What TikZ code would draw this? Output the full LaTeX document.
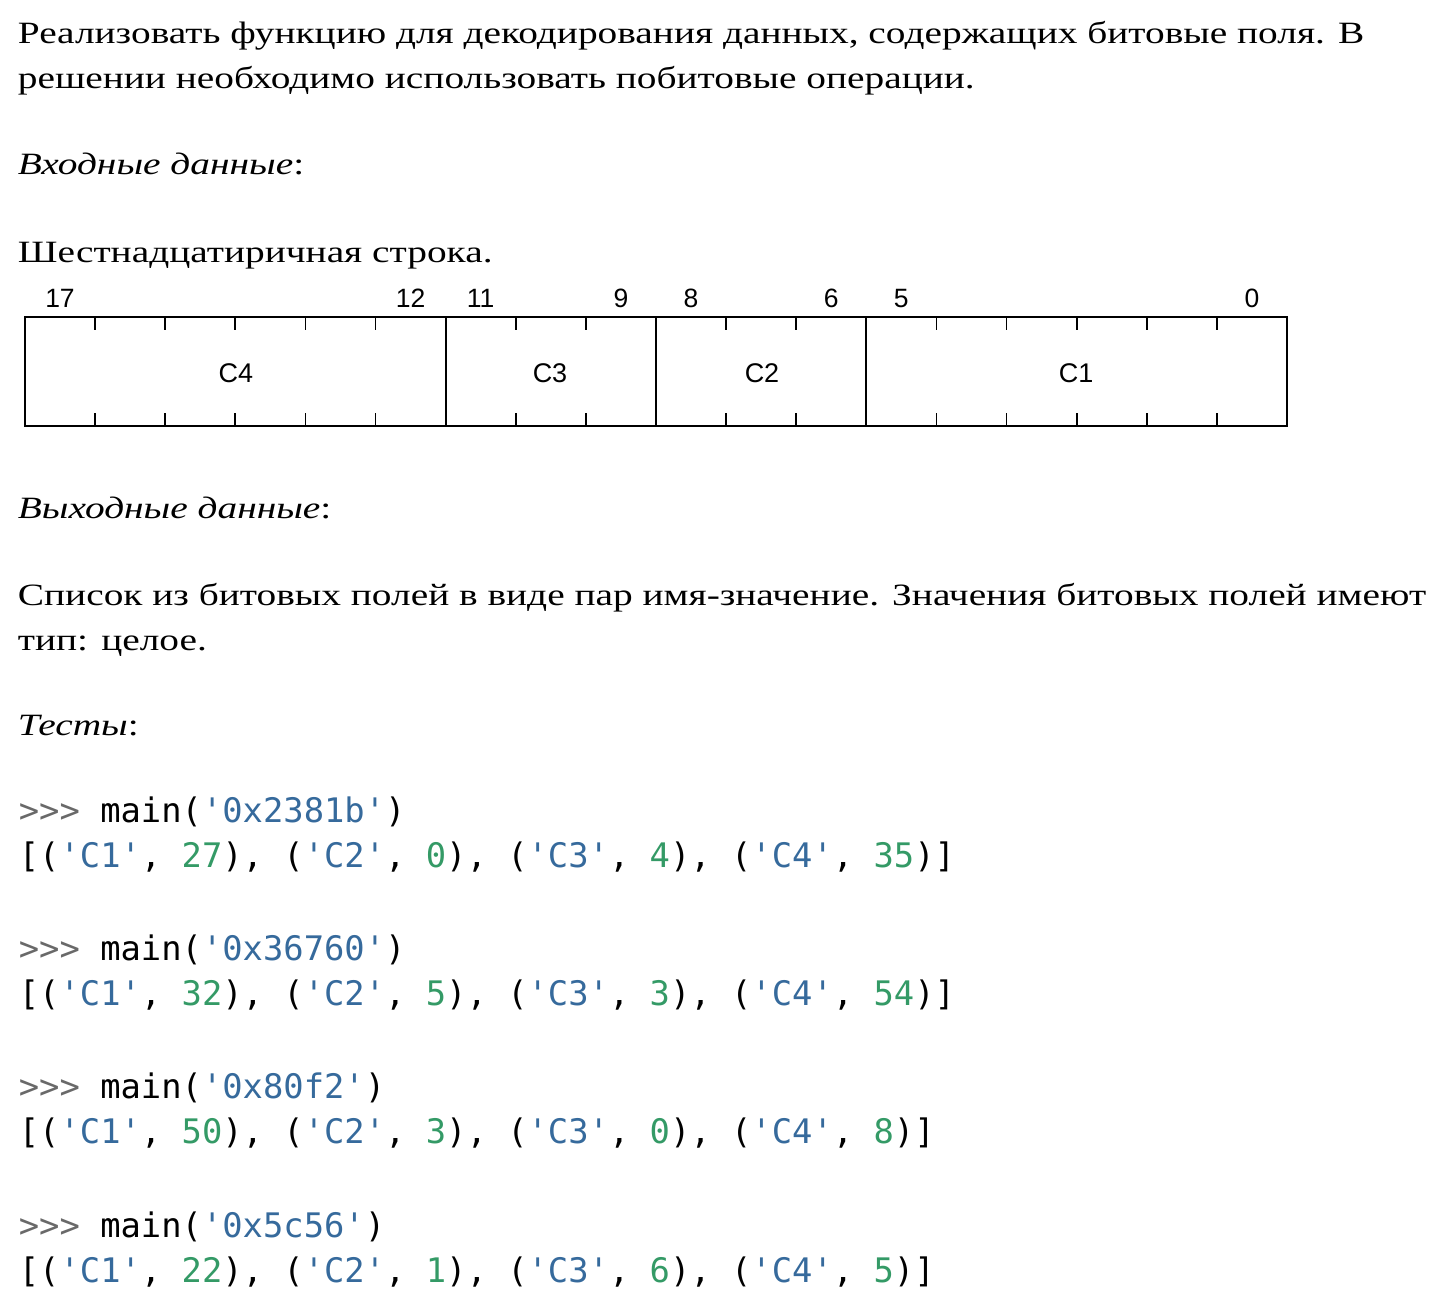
\documentclass[tikz,border=0pt]{standalone}
\usepackage{fontspec}
\setmainfont[FakeStretch=1.27]{Liberation Serif}
\setsansfont{Liberation Sans}
\setmonofont{DejaVu Sans Mono}
\definecolor{strblue}{RGB}{54,106,156}
\definecolor{numgreen}{RGB}{52,154,102}
\definecolor{promptgray}{RGB}{105,105,105}
\newcommand{\cstr}[1]{\textcolor{strblue}{#1}}
\newcommand{\cnum}[1]{\textcolor{numgreen}{#1}}
\newcommand{\prompt}{\textcolor{promptgray}{>>>}}
\tikzset{
  body/.style={anchor=base west, inner sep=0pt, font=\fontsize{31}{45}\selectfont},
  code/.style={anchor=base west, inner sep=0pt, font=\fontsize{33.8}{45}\selectfont\ttfamily},
  bitnum/.style={anchor=base, inner sep=0pt, font=\fontsize{26.5}{30}\selectfont\sffamily},
  field/.style={inner sep=0pt, font=\fontsize{27}{30}\selectfont\sffamily}
}
\begin{document}
\begin{tikzpicture}[x=1pt, y=-1pt, line width=1.8pt]
  \useasboundingbox (0,0) rectangle (1442,1308);
  % Text
  \node[body] (Intro1) at (17,44) {Реализовать функцию для декодирования данных, содержащих битовые поля. В};
  \node[body] (Intro2) at (17,89) {решении необходимо использовать побитовые операции.};
  \node[body] (InHead) at (17,175) {\textit{Входные данные}:};
  \node[body] (InText) at (17,262) {Шестнадцатиричная строка.};
  \node[body] (OutHead) at (17,518) {\textit{Выходные данные}:};
  \node[body] (OutText1) at (17,605) {Список из битовых полей в виде пар имя-значение. Значения битовых полей имеют};
  \node[body] (OutText2) at (17,650) {тип: целое.};
  \node[body] (TestHead) at (17,735) {\textit{Тесты}:};

  % Bit fields
  \draw (25,317) rectangle (1287,426);
  \foreach \b in {1,...,17} {
    \draw ({25+\b*70.11},317) -- ++(0,13);
    \draw ({25+\b*70.11},426) -- ++(0,-13);
  }
  \foreach \b in {6,9,12} \draw ({25+\b*70.11},317) -- ({25+\b*70.11},426);
  \foreach \n/\b in {17/0,12/5,11/6,9/8,8/9,6/11,5/12,0/17}
    \node[bitnum] (B\n) at ({60+\b*70.11},307) {\n};
  \node[field] (C4) at (236,373) {C4};
  \node[field] (C3) at (550,373) {C3};
  \node[field] (C2) at (762,373) {C2};
  \node[field] (C1) at (1076,373) {C1};

  % Tests
  \node[code] (Call1) at (18,822) {\prompt{} main(\cstr{'0x2381b'})};
  \node[code] (Res1) at (18,867) {[(\cstr{'C1'}, \cnum{27}), (\cstr{'C2'}, \cnum{0}), (\cstr{'C3'}, \cnum{4}), (\cstr{'C4'}, \cnum{35})]};
  \node[code] (Call2) at (18,960) {\prompt{} main(\cstr{'0x36760'})};
  \node[code] (Res2) at (18,1005) {[(\cstr{'C1'}, \cnum{32}), (\cstr{'C2'}, \cnum{5}), (\cstr{'C3'}, \cnum{3}), (\cstr{'C4'}, \cnum{54})]};
  \node[code] (Call3) at (18,1098) {\prompt{} main(\cstr{'0x80f2'})};
  \node[code] (Res3) at (18,1143) {[(\cstr{'C1'}, \cnum{50}), (\cstr{'C2'}, \cnum{3}), (\cstr{'C3'}, \cnum{0}), (\cstr{'C4'}, \cnum{8})]};
  \node[code] (Call4) at (18,1237) {\prompt{} main(\cstr{'0x5c56'})};
  \node[code] (Res4) at (18,1282) {[(\cstr{'C1'}, \cnum{22}), (\cstr{'C2'}, \cnum{1}), (\cstr{'C3'}, \cnum{6}), (\cstr{'C4'}, \cnum{5})]};
\end{tikzpicture}
\end{document}
